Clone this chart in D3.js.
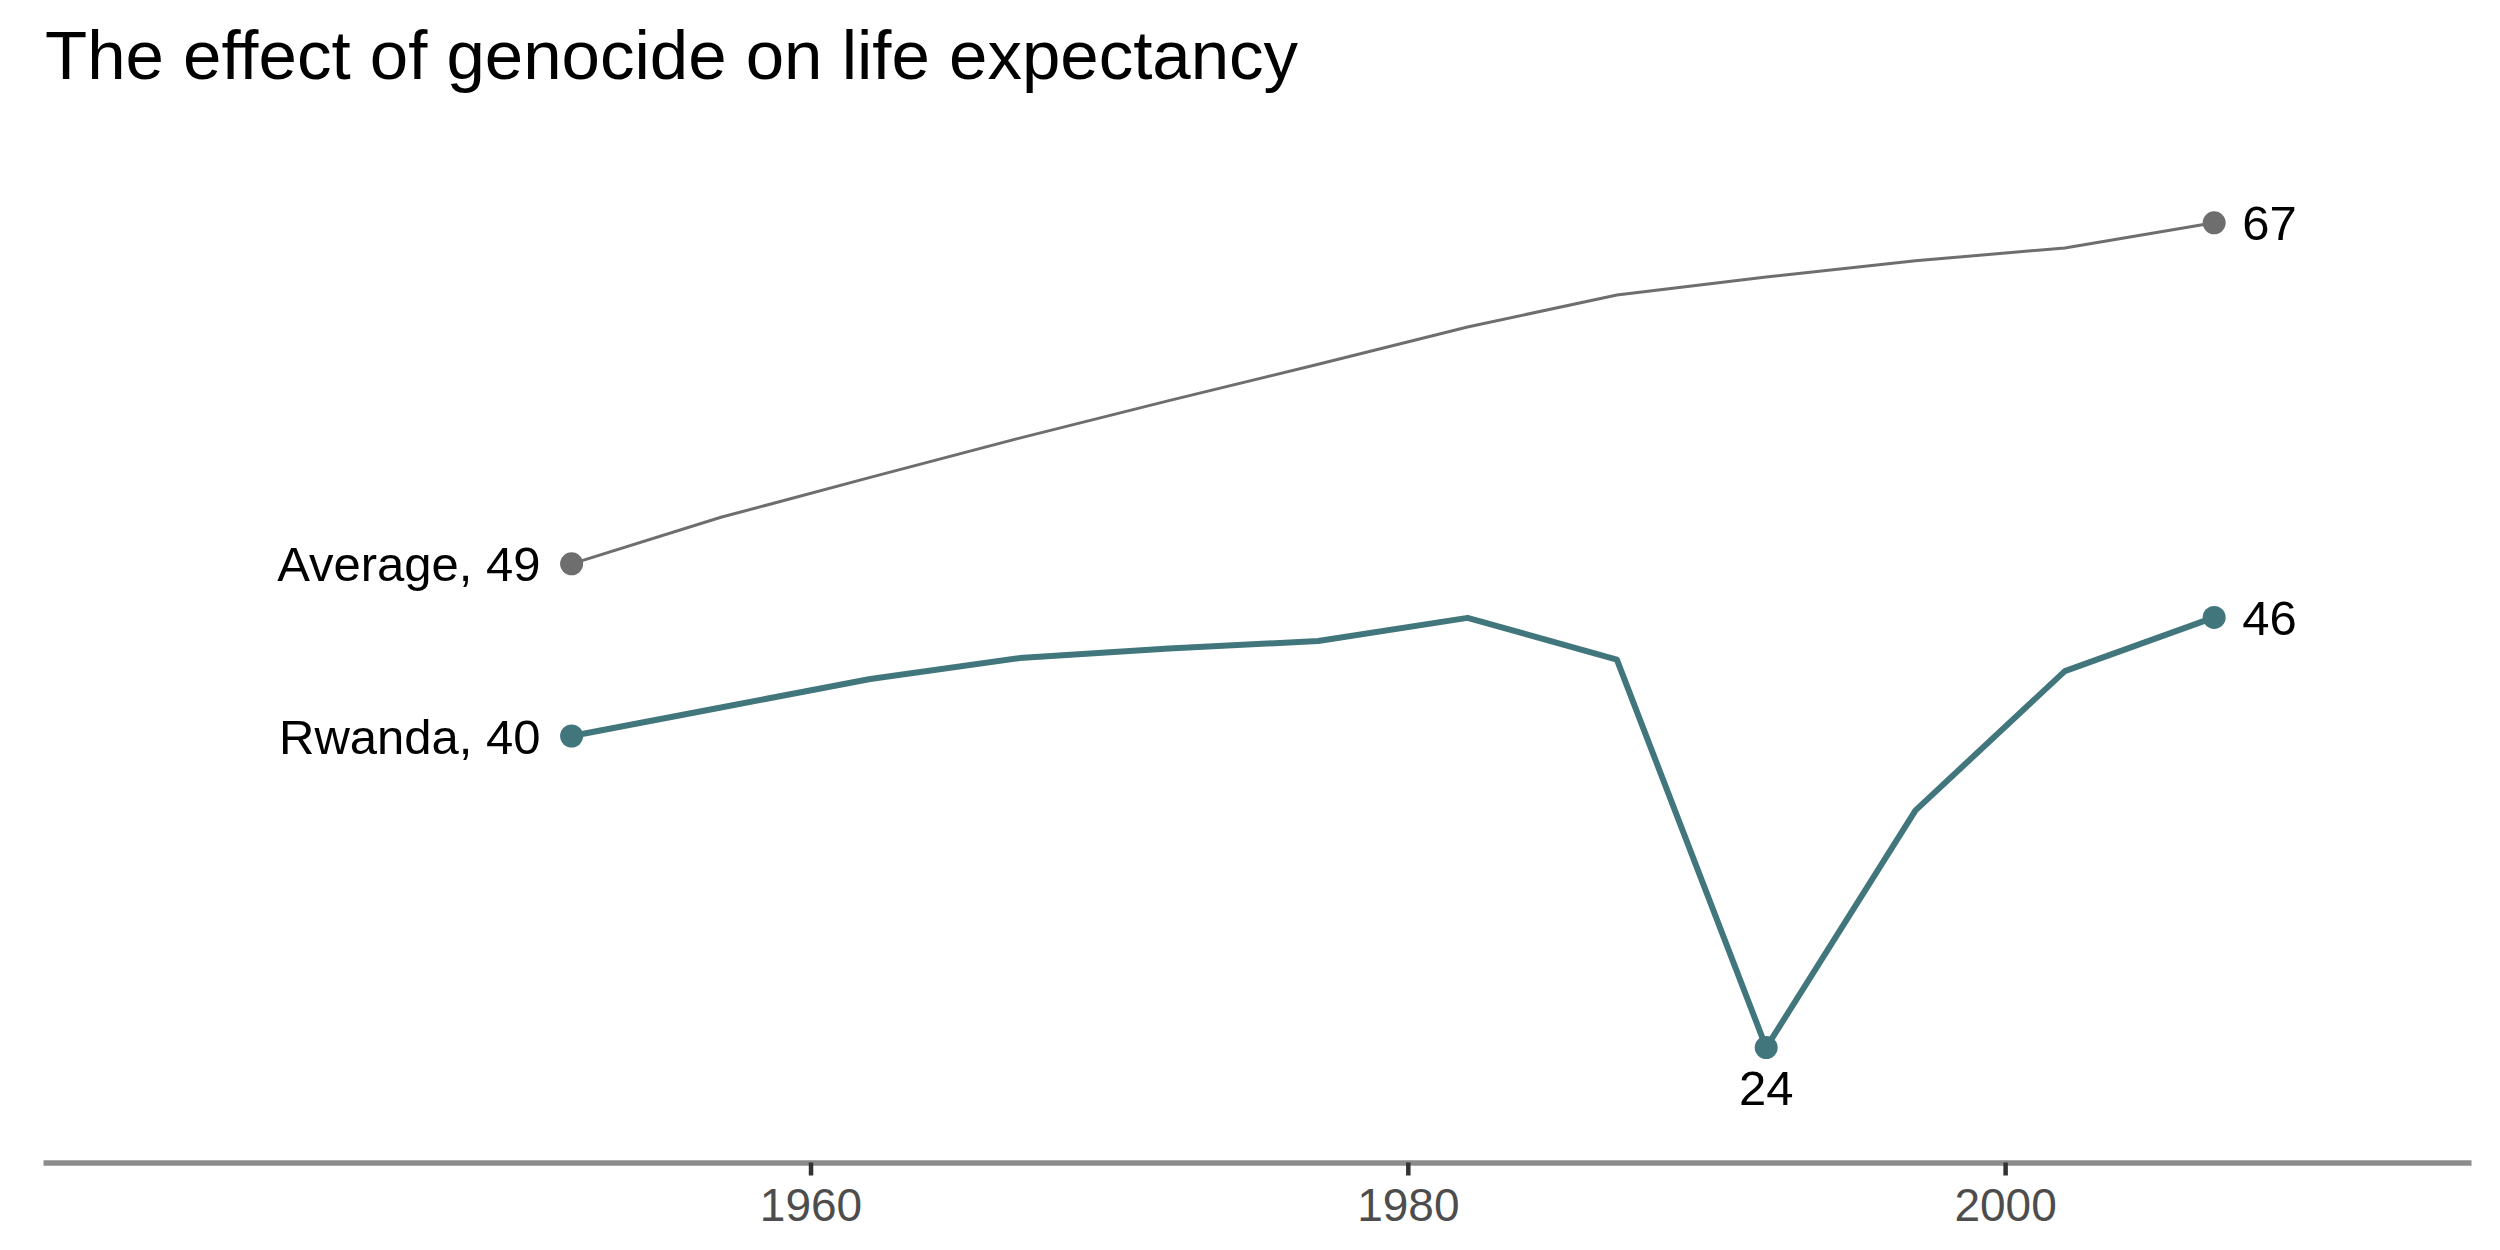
<!DOCTYPE html>
<html>
<head>
<meta charset="utf-8">
<script src="https://cdn.jsdelivr.net/npm/d3@7"></script>
<style>
  html, body { margin: 0; padding: 0; background: #fff; }
  svg { display: block; font-family: "Liberation Sans", Arial, Helvetica, sans-serif; }
</style>
</head>
<body>
<div id="chart"></div>
<script>
// Life expectancy data (gapminder, every 5 years)
const years = [1952, 1957, 1962, 1967, 1972, 1977, 1982, 1987, 1992, 1997, 2002, 2007];
const rwanda = [40.0, 41.5, 43.0, 44.1, 44.6, 45.0, 46.218, 44.02, 23.599, 36.087, 43.413, 46.242];
const average = [49.06, 51.51, 53.61, 55.68, 57.65, 59.57, 61.53, 63.21, 64.16, 65.01, 65.69, 67.01];
const tickYears = [1960, 1980, 2000];

const width = 2500, height = 1250;
const teal = "#41777c", grey = "#6e6e6e";

const svg = d3.select("#chart")
  .append("svg")
  .attr("width", width)
  .attr("height", height);

// Scales (x domain padded to match the axis line extent)
const x = d3.scaleLinear()
  .domain([1934.3, 2015.6])
  .range([43, 2471]);

const y = d3.scaleLinear()
  .domain([20, 70])
  .range([1116, 166]);

// Title
svg.append("text")
  .attr("x", 45)
  .attr("y", 79)
  .attr("font-size", 69)
  .attr("fill", "#000")
  .text("The effect of genocide on life expectancy");

// X axis
const xAxis = svg.append("g")
  .attr("transform", "translate(0,1162.5)")
  .call(d3.axisBottom(x).tickValues(tickYears).tickFormat(d3.format("d")).tickSize(13).tickSizeOuter(0).tickPadding(13));

xAxis.select(".domain")
  .attr("stroke", "#8c8c8c")
  .attr("stroke-width", 5.5);

xAxis.selectAll(".tick line")
  .attr("stroke", "#333")
  .attr("stroke-width", 4.5);

xAxis.selectAll(".tick text")
  .attr("font-size", 46)
  .attr("fill", "#4d4d4d")
  .attr("font-family", "Liberation Sans, Arial, sans-serif");

// Lines
const line = d3.line()
  .x((d, i) => x(years[i]))
  .y(d => y(d));

svg.append("path")
  .datum(average)
  .attr("fill", "none")
  .attr("stroke", grey)
  .attr("stroke-width", 3)
  .attr("d", line);

svg.append("path")
  .datum(rwanda)
  .attr("fill", "none")
  .attr("stroke", teal)
  .attr("stroke-width", 6)
  .attr("stroke-linejoin", "round")
  .attr("d", line);

// Highlighted points: first, last and Rwanda's minimum
const last = years.length - 1;
const minIdx = rwanda.indexOf(d3.min(rwanda));
const points = [
  { year: years[0], value: average[0], color: grey },
  { year: years[last], value: average[last], color: grey },
  { year: years[0], value: rwanda[0], color: teal },
  { year: years[last], value: rwanda[last], color: teal },
  { year: years[minIdx], value: rwanda[minIdx], color: teal }
];

svg.selectAll("circle.pt")
  .data(points)
  .join("circle")
  .attr("class", "pt")
  .attr("cx", d => x(d.year))
  .attr("cy", d => y(d.value))
  .attr("r", 11.5)
  .attr("fill", d => d.color);

// Labels
const fs = 49;
const labels = [
  { year: years[0], value: average[0], text: `Average, ${Math.round(average[0])}`, anchor: "end", dx: -31, dy: fs * 0.358 },
  { year: years[0], value: rwanda[0], text: `Rwanda, ${Math.round(rwanda[0])}`, anchor: "end", dx: -31, dy: fs * 0.358 },
  { year: years[last], value: average[last], text: `${Math.round(average[last])}`, anchor: "start", dx: 28, dy: fs * 0.358 },
  { year: years[last], value: rwanda[last], text: `${Math.round(rwanda[last])}`, anchor: "start", dx: 28, dy: fs * 0.358 },
  { year: years[minIdx], value: rwanda[minIdx], text: `${Math.round(rwanda[minIdx])}`, anchor: "middle", dx: 0, dy: 57 }
];

svg.selectAll("text.lbl")
  .data(labels)
  .join("text")
  .attr("class", "lbl")
  .attr("x", d => x(d.year) + d.dx)
  .attr("y", d => y(d.value) + d.dy)
  .attr("text-anchor", d => d.anchor)
  .attr("font-size", fs)
  .attr("fill", "#000")
  .text(d => d.text);
</script>
</body>
</html>
